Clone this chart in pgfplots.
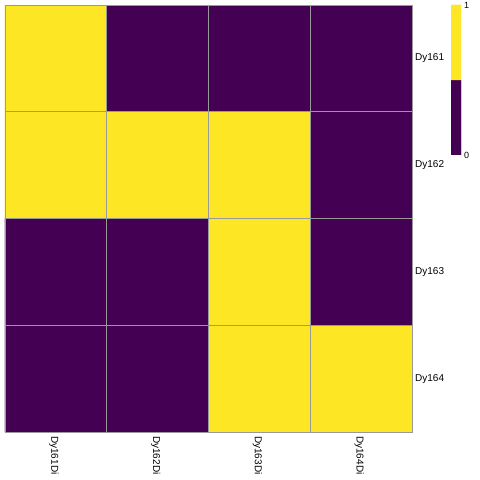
\documentclass[border=0pt]{standalone}
\usepackage{pgfplots}
\pgfplotsset{compat=1.18}
\usepackage{fontspec}
\setmainfont{Liberation Sans}
\definecolor{vpurple}{RGB}{68,1,84}
\definecolor{vyellow}{RGB}{253,231,37}
\definecolor{bgrey}{RGB}{153,153,153}
\begin{document}
\begin{tikzpicture}[x=1pt,y=1pt]
\path[use as bounding box] (0,0) rectangle (480,480);
\begin{axis}[
  at={(5pt,48pt)}, anchor=south west,
  width=407pt, height=427pt, scale only axis,
  xmin=-0.5, xmax=3.5, ymin=-0.5, ymax=3.5, y dir=reverse,
  colormap={vir}{rgb255(0cm)=(68,1,84); rgb255(1cm)=(253,231,37)},
  point meta min=0, point meta max=1,
  xtick={0,1,2,3}, xticklabels={Dy161Di,Dy162Di,Dy163Di,Dy164Di},
  ytick={0,1,2,3}, yticklabels={Dy161,Dy162,Dy163,Dy164},
  yticklabel pos=right,
  minor xtick={0.5,1.5,2.5}, minor ytick={0.5,1.5,2.5},
  minor grid style={bgrey, line width=0.8pt},
  grid=minor,
  major tick length=0pt, minor tick length=0pt,
  axis line style={bgrey, line width=0.8pt},
  axis on top,
  xticklabel style={rotate=-90, anchor=west, font=\fontsize{10}{12}\selectfont, inner sep=0pt, xshift=4pt, yshift=-2pt},
  yticklabel style={anchor=west, font=\fontsize{10}{12}\selectfont, inner sep=0pt, xshift=3pt},
]
\addplot[matrix plot*, mesh/cols=4, point meta=explicit] table[meta=z] {
x y z
0 0 1
1 0 0
2 0 0
3 0 0
0 1 1
1 1 1
2 1 1
3 1 0
0 2 0
1 2 0
2 2 1
3 2 0
0 3 0
1 3 0
2 3 1
3 3 1
};
\end{axis}
\begin{axis}[
  at={(451pt,325pt)}, anchor=south west,
  width=10pt, height=150pt, scale only axis,
  xmin=-0.5, xmax=1.5, ymin=-0.5, ymax=1.5,
  colormap={vir}{rgb255(0cm)=(68,1,84); rgb255(1cm)=(253,231,37)},
  point meta min=0, point meta max=1,
  xtick=\empty,
  ytick={-0.5,1.5}, yticklabels={0,1},
  yticklabel pos=right,
  major tick length=0pt,
  axis line style={draw=none},
  yticklabel style={anchor=west, font=\fontsize{9}{11}\selectfont, inner sep=0pt, xshift=3pt},
]
\addplot[matrix plot*, mesh/cols=2, point meta=explicit] table[meta=z] {
x y z
0 0 0
1 0 0
0 1 1
1 1 1
};
\end{axis}
\end{tikzpicture}
\end{document}
